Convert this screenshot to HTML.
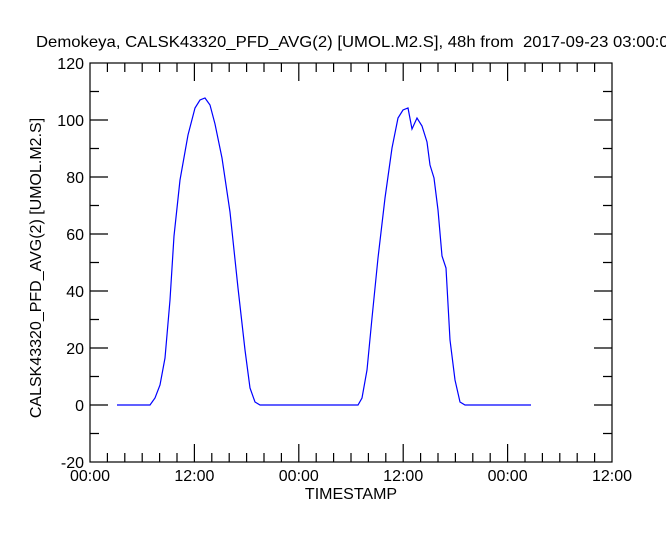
<!DOCTYPE html>
<html><head><style>body{margin:0;background:#fff;overflow:hidden}svg{display:block}text{font-family:"Liberation Sans",sans-serif;fill:#000}</style></head><body>
<svg width="666" height="533" viewBox="0 0 666 533">
<text x="36" y="47" font-size="16" textLength="642" lengthAdjust="spacingAndGlyphs" xml:space="preserve">Demokeya, CALSK43320_PFD_AVG(2) [UMOL.M2.S], 48h from  2017-09-23 03:00:00</text>
<rect x="90" y="63" width="522" height="399" fill="none" stroke="#000" stroke-width="1.2"/>
<g stroke="#000" stroke-width="1.2">
<path d="M194.4,462v-18M298.8,462v-18M403.2,462v-18M507.6,462v-18M194.4,63v18M298.8,63v18M403.2,63v18M507.6,63v18"/>
<path d="M107.4,462v-9M124.8,462v-9M142.2,462v-9M159.6,462v-9M177,462v-9M211.8,462v-9M229.2,462v-9M246.6,462v-9M264,462v-9M281.4,462v-9M316.2,462v-9M333.6,462v-9M351,462v-9M368.4,462v-9M385.8,462v-9M420.6,462v-9M438,462v-9M455.4,462v-9M472.8,462v-9M490.2,462v-9M525,462v-9M542.4,462v-9M559.8,462v-9M577.2,462v-9M594.6,462v-9"/>
<path d="M107.4,63v9M124.8,63v9M142.2,63v9M159.6,63v9M177,63v9M211.8,63v9M229.2,63v9M246.6,63v9M264,63v9M281.4,63v9M316.2,63v9M333.6,63v9M351,63v9M368.4,63v9M385.8,63v9M420.6,63v9M438,63v9M455.4,63v9M472.8,63v9M490.2,63v9M525,63v9M542.4,63v9M559.8,63v9M577.2,63v9M594.6,63v9"/>
<path d="M90,405h18M90,348h18M90,291h18M90,234h18M90,177h18M90,120h18M612,405h-18M612,348h-18M612,291h-18M612,234h-18M612,177h-18M612,120h-18"/>
<path d="M90,433.5h9M90,376.5h9M90,319.5h9M90,262.5h9M90,205.5h9M90,148.5h9M90,91.5h9M612,433.5h-9M612,376.5h-9M612,319.5h-9M612,262.5h-9M612,205.5h-9M612,148.5h-9M612,91.5h-9"/>
</g>
<g font-size="16" text-anchor="end">
<text x="84" y="69">120</text><text x="84" y="126">100</text><text x="84" y="183">80</text><text x="84" y="240">60</text><text x="84" y="297">40</text><text x="84" y="354">20</text><text x="84" y="411">0</text><text x="84" y="468">-20</text>
</g>
<g font-size="16" text-anchor="middle">
<text x="90" y="481">00:00</text><text x="194.4" y="481">12:00</text><text x="298.8" y="481">00:00</text><text x="403.2" y="481">12:00</text><text x="507.6" y="481">00:00</text><text x="612" y="481">12:00</text>
<text x="351" y="499">TIMESTAMP</text>
<text transform="translate(41,268) rotate(-90)">CALSK43320_PFD_AVG(2) [UMOL.M2.S]</text>
</g>
<polyline fill="none" stroke="#0000ff" stroke-width="1.2" points="117,405 150,405 155,398 160,385 165,358 170,300 174,236 180,180 188,135 195,108 200,100 205,98 210,105 215,124 222,158 230,212 238,288 245,350 250,388 255,402 260,405 358,405 362,398 367,370 372,318 378,258 385,198 392,148 398,118 403,110 408,108 412,129 417,118 422,126 427,142 430,165 434,178 438,210 442,256 446,268 450,340 455,380 460,402 465,405 531,405"/>
</svg>
</body></html>
